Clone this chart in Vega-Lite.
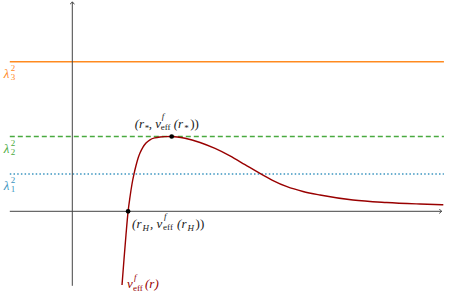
{
  "$schema": "https://vega.github.io/schema/vega-lite/v6.json",
  "width": 452,
  "height": 298,
  "padding": 0,
  "autosize": {"type": "none"},
  "background": "white",
  "config": {"view": {"stroke": null}},
  "datasets": {
    "levels": [
      {"name": "λ1", "idx": "1", "v": 0.5},
      {"name": "λ2", "idx": "2", "v": 1.0},
      {"name": "λ3", "idx": "3", "v": 2.0}
    ],
    "curve": [
      {"r": 0.891, "v": -0.985},
      {"r": 0.927, "v": -0.638},
      {"r": 0.962, "v": -0.317},
      {"r": 1.0, "v": 0.0},
      {"r": 1.034, "v": 0.191},
      {"r": 1.07, "v": 0.365},
      {"r": 1.106, "v": 0.499},
      {"r": 1.142, "v": 0.612},
      {"r": 1.177, "v": 0.706},
      {"r": 1.213, "v": 0.779},
      {"r": 1.267, "v": 0.859},
      {"r": 1.321, "v": 0.913},
      {"r": 1.392, "v": 0.956},
      {"r": 1.482, "v": 0.982},
      {"r": 1.572, "v": 0.994},
      {"r": 1.661, "v": 0.999},
      {"r": 1.781, "v": 1.0},
      {"r": 2.02, "v": 0.976},
      {"r": 2.289, "v": 0.92},
      {"r": 2.558, "v": 0.84},
      {"r": 2.826, "v": 0.74},
      {"r": 3.095, "v": 0.623},
      {"r": 3.333, "v": 0.519},
      {"r": 3.579, "v": 0.418},
      {"r": 3.848, "v": 0.329},
      {"r": 4.134, "v": 0.265},
      {"r": 4.439, "v": 0.218},
      {"r": 5.03, "v": 0.151},
      {"r": 5.634, "v": 0.118},
      {"r": 6.231, "v": 0.098},
      {"r": 6.649, "v": 0.087}
    ],
    "points": [
      {"id": "rH", "r": 1.0, "v": 0.0},
      {"id": "rstar", "r": 1.781, "v": 1.0},
      {"id": "end", "r": 0.891, "v": -0.985}
    ]
  },
  "layer": [
    {
      "data": {"name": "levels"},
      "mark": {"type": "rule", "strokeWidth": 1.5},
      "encoding": {
        "x": {"datum": -1.12, "type": "quantitative", "scale": {"domain": [-1.2957, 6.8047], "nice": false, "zero": false}, "axis": null},
        "x2": {"datum": 6.66},
        "y": {"field": "v", "type": "quantitative", "scale": {"domain": [-1.1591, 2.8249], "nice": false, "zero": false}, "axis": null},
        "color": {"field": "name", "type": "nominal", "scale": {"domain": ["λ1", "λ2", "λ3"], "range": ["#3b95c0", "#4aaa40", "#ff8a1f"]}, "legend": null},
        "strokeDash": {"field": "name", "type": "nominal", "scale": {"domain": ["λ1", "λ2", "λ3"], "range": [[1.5, 2.2], [5, 3], [1, 0]]}, "legend": null}
      }
    },
    {
      "data": {"values": [{}]},
      "mark": {"type": "rule", "color": "#444", "strokeWidth": 1},
      "encoding": {
        "x": {"datum": -1.12, "type": "quantitative", "scale": {"domain": [-1.2957, 6.8047], "nice": false, "zero": false}, "axis": null},
        "x2": {"datum": 6.62},
        "y": {"datum": 0, "type": "quantitative", "scale": {"domain": [-1.1591, 2.8249], "nice": false, "zero": false}, "axis": null}
      }
    },
    {
      "data": {"values": [{}]},
      "mark": {"type": "rule", "color": "#444", "strokeWidth": 1},
      "encoding": {
        "x": {"datum": 0, "type": "quantitative", "scale": {"domain": [-1.2957, 6.8047], "nice": false, "zero": false}, "axis": null},
        "y": {"datum": -0.996, "type": "quantitative", "scale": {"domain": [-1.1591, 2.8249], "nice": false, "zero": false}, "axis": null},
        "y2": {"datum": 2.80}
      }
    },
    {
      "data": {"values": [{}]},
      "mark": {"type": "point", "shape": "M-1,-1Q-0.4,-0.15,0,0Q-0.4,0.15,-1,1", "filled": false, "stroke": "#444", "strokeWidth": 1, "size": 20, "opacity": 1},
      "encoding": {
        "x": {"datum": 6.62, "type": "quantitative", "scale": {"domain": [-1.2957, 6.8047], "nice": false, "zero": false}, "axis": null},
        "y": {"datum": 0, "type": "quantitative", "scale": {"domain": [-1.1591, 2.8249], "nice": false, "zero": false}, "axis": null}
      }
    },
    {
      "data": {"values": [{}]},
      "mark": {"type": "point", "shape": "M-1,-1Q-0.4,-0.15,0,0Q-0.4,0.15,-1,1", "filled": false, "stroke": "#444", "strokeWidth": 1, "size": 20, "angle": 270, "opacity": 1},
      "encoding": {
        "x": {"datum": 0, "type": "quantitative", "scale": {"domain": [-1.2957, 6.8047], "nice": false, "zero": false}, "axis": null},
        "y": {"datum": 2.80, "type": "quantitative", "scale": {"domain": [-1.1591, 2.8249], "nice": false, "zero": false}, "axis": null}
      }
    },
    {
      "data": {"name": "curve"},
      "mark": {"type": "line", "color": "#990000", "strokeWidth": 1.4, "interpolate": "monotone"},
      "encoding": {
        "x": {"field": "r", "type": "quantitative", "scale": {"domain": [-1.2957, 6.8047], "nice": false, "zero": false}, "axis": null},
        "y": {"field": "v", "type": "quantitative", "scale": {"domain": [-1.1591, 2.8249], "nice": false, "zero": false}, "axis": null}
      }
    },
    {
      "data": {"name": "points"},
      "transform": [{"filter": "datum.id !== 'end'"}],
      "mark": {"type": "point", "filled": true, "color": "#000", "size": 22, "opacity": 1},
      "encoding": {
        "x": {"field": "r", "type": "quantitative", "scale": {"domain": [-1.2957, 6.8047], "nice": false, "zero": false}, "axis": null},
        "y": {"field": "v", "type": "quantitative", "scale": {"domain": [-1.1591, 2.8249], "nice": false, "zero": false}, "axis": null}
      }
    },
    {
      "data": {"name": "levels"},
      "mark": {"type": "text", "text": "λ", "font": "Liberation Serif", "fontSize": 13, "fontStyle": "italic", "align": "left", "baseline": "alphabetic", "dx": -6, "dy": 16.5},
      "encoding": {
        "x": {"datum": -1.12, "type": "quantitative", "scale": {"domain": [-1.2957, 6.8047], "nice": false, "zero": false}, "axis": null},
        "y": {"field": "v", "type": "quantitative", "scale": {"domain": [-1.1591, 2.8249], "nice": false, "zero": false}, "axis": null},
        "color": {"field": "name", "type": "nominal", "scale": {"domain": ["λ1", "λ2", "λ3"], "range": ["#3b95c0", "#4aaa40", "#ff8a1f"]}, "legend": null}
      }
    },
    {
      "data": {"name": "levels"},
      "mark": {"type": "text", "text": "2", "font": "Liberation Serif", "fontSize": 9, "align": "left", "baseline": "alphabetic", "dx": 1, "dy": 9},
      "encoding": {
        "x": {"datum": -1.12, "type": "quantitative", "scale": {"domain": [-1.2957, 6.8047], "nice": false, "zero": false}, "axis": null},
        "y": {"field": "v", "type": "quantitative", "scale": {"domain": [-1.1591, 2.8249], "nice": false, "zero": false}, "axis": null},
        "color": {"field": "name", "type": "nominal", "scale": {"domain": ["λ1", "λ2", "λ3"], "range": ["#3b95c0", "#4aaa40", "#ff8a1f"]}, "legend": null}
      }
    },
    {
      "data": {"name": "levels"},
      "mark": {"type": "text", "font": "Liberation Serif", "fontSize": 9, "align": "left", "baseline": "alphabetic", "dx": 1, "dy": 18.5},
      "encoding": {
        "text": {"field": "idx"},
        "x": {"datum": -1.12, "type": "quantitative", "scale": {"domain": [-1.2957, 6.8047], "nice": false, "zero": false}, "axis": null},
        "y": {"field": "v", "type": "quantitative", "scale": {"domain": [-1.1591, 2.8249], "nice": false, "zero": false}, "axis": null},
        "color": {"field": "name", "type": "nominal", "scale": {"domain": ["λ1", "λ2", "λ3"], "range": ["#3b95c0", "#4aaa40", "#ff8a1f"]}, "legend": null}
      }
    },
    {
      "data": {"name": "points"},
      "transform": [{"filter": "datum.id === 'rstar'"}],
      "mark": {"type": "text", "text": "(r", "font": "Liberation Serif", "fontSize": 13, "fontStyle": "italic", "align": "left", "baseline": "alphabetic", "dx": -37, "dy": -9, "color": "#222"},
      "encoding": {
        "x": {"field": "r", "type": "quantitative", "scale": {"domain": [-1.2957, 6.8047], "nice": false, "zero": false}, "axis": null},
        "y": {"field": "v", "type": "quantitative", "scale": {"domain": [-1.1591, 2.8249], "nice": false, "zero": false}, "axis": null}
      }
    },
    {
      "data": {"name": "points"},
      "transform": [{"filter": "datum.id === 'rstar'"}],
      "mark": {"type": "text", "text": "*", "font": "Liberation Serif", "fontSize": 9, "align": "left", "baseline": "alphabetic", "dx": -27, "dy": -5.5, "color": "#222"},
      "encoding": {
        "x": {"field": "r", "type": "quantitative", "scale": {"domain": [-1.2957, 6.8047], "nice": false, "zero": false}, "axis": null},
        "y": {"field": "v", "type": "quantitative", "scale": {"domain": [-1.1591, 2.8249], "nice": false, "zero": false}, "axis": null}
      }
    },
    {
      "data": {"name": "points"},
      "transform": [{"filter": "datum.id === 'rstar'"}],
      "mark": {"type": "text", "text": ", v", "font": "Liberation Serif", "fontSize": 13, "fontStyle": "italic", "align": "left", "baseline": "alphabetic", "dx": -23, "dy": -9, "color": "#222"},
      "encoding": {
        "x": {"field": "r", "type": "quantitative", "scale": {"domain": [-1.2957, 6.8047], "nice": false, "zero": false}, "axis": null},
        "y": {"field": "v", "type": "quantitative", "scale": {"domain": [-1.1591, 2.8249], "nice": false, "zero": false}, "axis": null}
      }
    },
    {
      "data": {"name": "points"},
      "transform": [{"filter": "datum.id === 'rstar'"}],
      "mark": {"type": "text", "text": "f", "font": "Liberation Serif", "fontSize": 9, "fontStyle": "italic", "align": "left", "baseline": "alphabetic", "dx": -10, "dy": -17.5, "color": "#222"},
      "encoding": {
        "x": {"field": "r", "type": "quantitative", "scale": {"domain": [-1.2957, 6.8047], "nice": false, "zero": false}, "axis": null},
        "y": {"field": "v", "type": "quantitative", "scale": {"domain": [-1.1591, 2.8249], "nice": false, "zero": false}, "axis": null}
      }
    },
    {
      "data": {"name": "points"},
      "transform": [{"filter": "datum.id === 'rstar'"}],
      "mark": {"type": "text", "text": "eff", "font": "Liberation Serif", "fontSize": 9, "align": "left", "baseline": "alphabetic", "dx": -11, "dy": -7, "color": "#222"},
      "encoding": {
        "x": {"field": "r", "type": "quantitative", "scale": {"domain": [-1.2957, 6.8047], "nice": false, "zero": false}, "axis": null},
        "y": {"field": "v", "type": "quantitative", "scale": {"domain": [-1.1591, 2.8249], "nice": false, "zero": false}, "axis": null}
      }
    },
    {
      "data": {"name": "points"},
      "transform": [{"filter": "datum.id === 'rstar'"}],
      "mark": {"type": "text", "text": "(r", "font": "Liberation Serif", "fontSize": 13, "fontStyle": "italic", "align": "left", "baseline": "alphabetic", "dx": 2, "dy": -9, "color": "#222"},
      "encoding": {
        "x": {"field": "r", "type": "quantitative", "scale": {"domain": [-1.2957, 6.8047], "nice": false, "zero": false}, "axis": null},
        "y": {"field": "v", "type": "quantitative", "scale": {"domain": [-1.1591, 2.8249], "nice": false, "zero": false}, "axis": null}
      }
    },
    {
      "data": {"name": "points"},
      "transform": [{"filter": "datum.id === 'rstar'"}],
      "mark": {"type": "text", "text": "*", "font": "Liberation Serif", "fontSize": 9, "align": "left", "baseline": "alphabetic", "dx": 12.5, "dy": -5.5, "color": "#222"},
      "encoding": {
        "x": {"field": "r", "type": "quantitative", "scale": {"domain": [-1.2957, 6.8047], "nice": false, "zero": false}, "axis": null},
        "y": {"field": "v", "type": "quantitative", "scale": {"domain": [-1.1591, 2.8249], "nice": false, "zero": false}, "axis": null}
      }
    },
    {
      "data": {"name": "points"},
      "transform": [{"filter": "datum.id === 'rstar'"}],
      "mark": {"type": "text", "text": "))", "font": "Liberation Serif", "fontSize": 13, "align": "left", "baseline": "alphabetic", "dx": 18.5, "dy": -9, "color": "#222"},
      "encoding": {
        "x": {"field": "r", "type": "quantitative", "scale": {"domain": [-1.2957, 6.8047], "nice": false, "zero": false}, "axis": null},
        "y": {"field": "v", "type": "quantitative", "scale": {"domain": [-1.1591, 2.8249], "nice": false, "zero": false}, "axis": null}
      }
    },
    {
      "data": {"name": "points"},
      "transform": [{"filter": "datum.id === 'rH'"}],
      "mark": {"type": "text", "text": "(r", "font": "Liberation Serif", "fontSize": 13, "fontStyle": "italic", "align": "left", "baseline": "alphabetic", "dx": 4, "dy": 17, "color": "#222"},
      "encoding": {
        "x": {"field": "r", "type": "quantitative", "scale": {"domain": [-1.2957, 6.8047], "nice": false, "zero": false}, "axis": null},
        "y": {"field": "v", "type": "quantitative", "scale": {"domain": [-1.1591, 2.8249], "nice": false, "zero": false}, "axis": null}
      }
    },
    {
      "data": {"name": "points"},
      "transform": [{"filter": "datum.id === 'rH'"}],
      "mark": {"type": "text", "text": "H", "font": "Liberation Serif", "fontSize": 9, "fontStyle": "italic", "align": "left", "baseline": "alphabetic", "dx": 14.5, "dy": 19.5, "color": "#222"},
      "encoding": {
        "x": {"field": "r", "type": "quantitative", "scale": {"domain": [-1.2957, 6.8047], "nice": false, "zero": false}, "axis": null},
        "y": {"field": "v", "type": "quantitative", "scale": {"domain": [-1.1591, 2.8249], "nice": false, "zero": false}, "axis": null}
      }
    },
    {
      "data": {"name": "points"},
      "transform": [{"filter": "datum.id === 'rH'"}],
      "mark": {"type": "text", "text": ", v", "font": "Liberation Serif", "fontSize": 13, "fontStyle": "italic", "align": "left", "baseline": "alphabetic", "dx": 22, "dy": 17, "color": "#222"},
      "encoding": {
        "x": {"field": "r", "type": "quantitative", "scale": {"domain": [-1.2957, 6.8047], "nice": false, "zero": false}, "axis": null},
        "y": {"field": "v", "type": "quantitative", "scale": {"domain": [-1.1591, 2.8249], "nice": false, "zero": false}, "axis": null}
      }
    },
    {
      "data": {"name": "points"},
      "transform": [{"filter": "datum.id === 'rH'"}],
      "mark": {"type": "text", "text": "f", "font": "Liberation Serif", "fontSize": 9, "fontStyle": "italic", "align": "left", "baseline": "alphabetic", "dx": 36, "dy": 8, "color": "#222"},
      "encoding": {
        "x": {"field": "r", "type": "quantitative", "scale": {"domain": [-1.2957, 6.8047], "nice": false, "zero": false}, "axis": null},
        "y": {"field": "v", "type": "quantitative", "scale": {"domain": [-1.1591, 2.8249], "nice": false, "zero": false}, "axis": null}
      }
    },
    {
      "data": {"name": "points"},
      "transform": [{"filter": "datum.id === 'rH'"}],
      "mark": {"type": "text", "text": "eff", "font": "Liberation Serif", "fontSize": 9, "align": "left", "baseline": "alphabetic", "dx": 35, "dy": 19, "color": "#222"},
      "encoding": {
        "x": {"field": "r", "type": "quantitative", "scale": {"domain": [-1.2957, 6.8047], "nice": false, "zero": false}, "axis": null},
        "y": {"field": "v", "type": "quantitative", "scale": {"domain": [-1.1591, 2.8249], "nice": false, "zero": false}, "axis": null}
      }
    },
    {
      "data": {"name": "points"},
      "transform": [{"filter": "datum.id === 'rH'"}],
      "mark": {"type": "text", "text": "(r", "font": "Liberation Serif", "fontSize": 13, "fontStyle": "italic", "align": "left", "baseline": "alphabetic", "dx": 49, "dy": 17, "color": "#222"},
      "encoding": {
        "x": {"field": "r", "type": "quantitative", "scale": {"domain": [-1.2957, 6.8047], "nice": false, "zero": false}, "axis": null},
        "y": {"field": "v", "type": "quantitative", "scale": {"domain": [-1.1591, 2.8249], "nice": false, "zero": false}, "axis": null}
      }
    },
    {
      "data": {"name": "points"},
      "transform": [{"filter": "datum.id === 'rH'"}],
      "mark": {"type": "text", "text": "H", "font": "Liberation Serif", "fontSize": 9, "fontStyle": "italic", "align": "left", "baseline": "alphabetic", "dx": 59.5, "dy": 19.5, "color": "#222"},
      "encoding": {
        "x": {"field": "r", "type": "quantitative", "scale": {"domain": [-1.2957, 6.8047], "nice": false, "zero": false}, "axis": null},
        "y": {"field": "v", "type": "quantitative", "scale": {"domain": [-1.1591, 2.8249], "nice": false, "zero": false}, "axis": null}
      }
    },
    {
      "data": {"name": "points"},
      "transform": [{"filter": "datum.id === 'rH'"}],
      "mark": {"type": "text", "text": "))", "font": "Liberation Serif", "fontSize": 13, "align": "left", "baseline": "alphabetic", "dx": 67.5, "dy": 17, "color": "#222"},
      "encoding": {
        "x": {"field": "r", "type": "quantitative", "scale": {"domain": [-1.2957, 6.8047], "nice": false, "zero": false}, "axis": null},
        "y": {"field": "v", "type": "quantitative", "scale": {"domain": [-1.1591, 2.8249], "nice": false, "zero": false}, "axis": null}
      }
    },
    {
      "data": {"name": "points"},
      "transform": [{"filter": "datum.id === 'end'"}],
      "mark": {"type": "text", "text": "v", "font": "Liberation Serif", "fontSize": 13, "fontStyle": "italic", "align": "left", "baseline": "alphabetic", "dx": 5, "dy": 3.5, "color": "#990000"},
      "encoding": {
        "x": {"field": "r", "type": "quantitative", "scale": {"domain": [-1.2957, 6.8047], "nice": false, "zero": false}, "axis": null},
        "y": {"field": "v", "type": "quantitative", "scale": {"domain": [-1.1591, 2.8249], "nice": false, "zero": false}, "axis": null}
      }
    },
    {
      "data": {"name": "points"},
      "transform": [{"filter": "datum.id === 'end'"}],
      "mark": {"type": "text", "text": "f", "font": "Liberation Serif", "fontSize": 9, "fontStyle": "italic", "align": "left", "baseline": "alphabetic", "dx": 12, "dy": -5, "color": "#990000"},
      "encoding": {
        "x": {"field": "r", "type": "quantitative", "scale": {"domain": [-1.2957, 6.8047], "nice": false, "zero": false}, "axis": null},
        "y": {"field": "v", "type": "quantitative", "scale": {"domain": [-1.1591, 2.8249], "nice": false, "zero": false}, "axis": null}
      }
    },
    {
      "data": {"name": "points"},
      "transform": [{"filter": "datum.id === 'end'"}],
      "mark": {"type": "text", "text": "eff", "font": "Liberation Serif", "fontSize": 9, "align": "left", "baseline": "alphabetic", "dx": 11, "dy": 6.5, "color": "#990000"},
      "encoding": {
        "x": {"field": "r", "type": "quantitative", "scale": {"domain": [-1.2957, 6.8047], "nice": false, "zero": false}, "axis": null},
        "y": {"field": "v", "type": "quantitative", "scale": {"domain": [-1.1591, 2.8249], "nice": false, "zero": false}, "axis": null}
      }
    },
    {
      "data": {"name": "points"},
      "transform": [{"filter": "datum.id === 'end'"}],
      "mark": {"type": "text", "text": "(r)", "font": "Liberation Serif", "fontSize": 13, "fontStyle": "italic", "align": "left", "baseline": "alphabetic", "dx": 23, "dy": 3.5, "color": "#990000"},
      "encoding": {
        "x": {"field": "r", "type": "quantitative", "scale": {"domain": [-1.2957, 6.8047], "nice": false, "zero": false}, "axis": null},
        "y": {"field": "v", "type": "quantitative", "scale": {"domain": [-1.1591, 2.8249], "nice": false, "zero": false}, "axis": null}
      }
    }
  ]
}
